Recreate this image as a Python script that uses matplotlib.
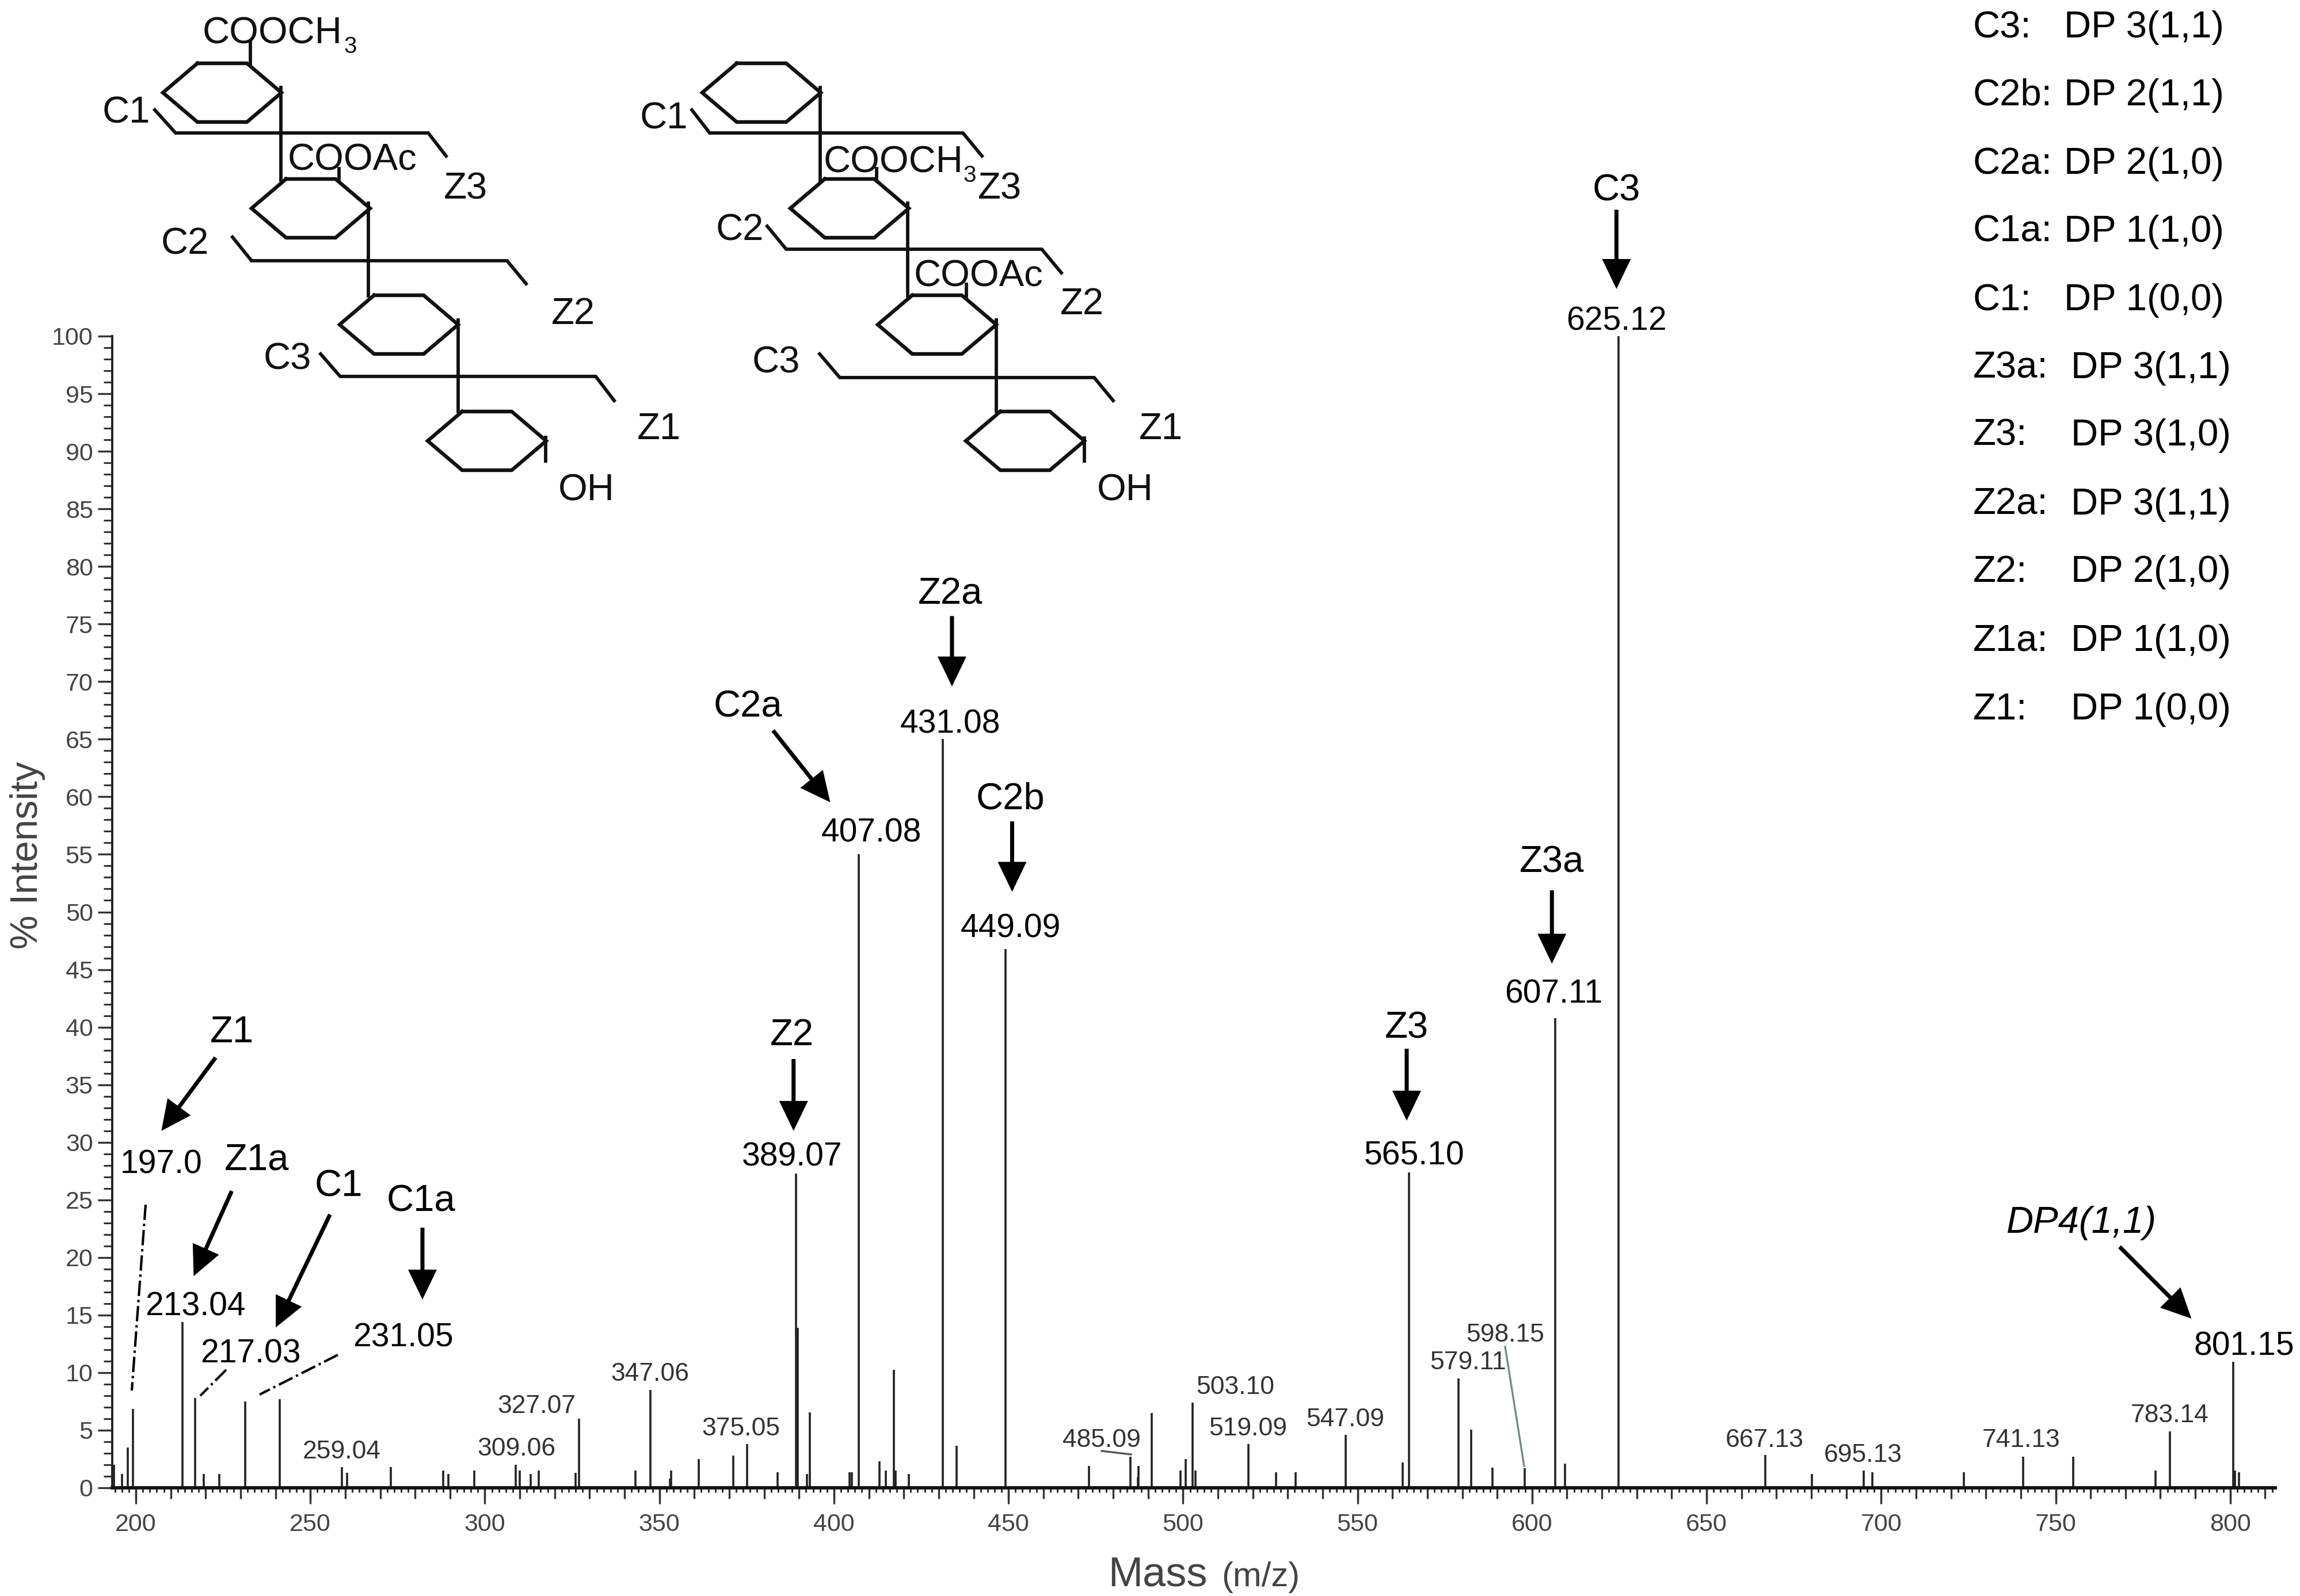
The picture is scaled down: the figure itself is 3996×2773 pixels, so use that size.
import matplotlib
matplotlib.use("Agg")
import matplotlib.pyplot as plt
from matplotlib.ticker import MultipleLocator
import numpy as np

plt.rcParams["font.family"] = ["Liberation Sans", "DejaVu Sans"]

W, H = 3996, 2773
K = W / 1568

# peaks
mz = [193.8, 196.1, 197.7, 199.1, 213.35, 217.0, 219.5, 223.9, 231.3, 241.2, 259.1, 260.5, 273.0,
      288.1, 289.6, 297.0, 308.9, 310.0, 313.1, 315.5, 326.0, 327.0, 343.2, 347.4, 353.0, 353.3,
      361.3, 371.2, 375.1, 383.8, 389.1, 389.6, 392.2, 393.1, 404.5, 405.2, 407.1, 413.1, 414.9,
      417.1, 417.7, 421.4, 431.1, 435.2, 449.1, 473.1, 485.0, 487.1, 487.3, 491.1, 499.3, 500.8,
      502.8, 503.5, 518.8, 526.7, 532.2, 546.6, 562.9, 564.7, 579.0, 582.6, 588.6, 597.9, 606.7,
      609.4, 624.7, 666.8, 680.2, 695.0, 697.5, 723.7, 740.7, 755.0, 778.6, 782.7, 800.9, 801.4,
      802.5]
intensity = [2.0, 1.2, 3.5, 6.85, 14.4, 7.8, 1.2, 1.2, 7.5, 7.7, 1.8, 1.3, 1.8,
             1.5, 1.2, 1.5, 2.0, 1.5, 1.2, 1.5, 1.3, 6.0, 1.5, 8.5, 0.8, 1.5,
             2.5, 2.8, 3.8, 1.35, 27.3, 13.9, 1.2, 6.55, 1.35, 1.35, 55.0, 2.3, 1.5,
             10.25, 1.5, 1.2, 65.0, 3.65, 46.8, 1.9, 2.7, 0.9, 1.9, 6.5, 1.5, 2.5,
             7.4, 1.5, 3.8, 1.35, 1.35, 4.6, 2.2, 27.4, 9.5, 5.05, 1.75, 1.7, 40.8,
             2.1, 100.0, 2.85, 1.2, 1.5, 1.35, 1.35, 2.7, 2.7, 1.5, 4.9, 10.95, 1.5,
             1.35]

# small grey peak labels
small_labels = ["259.04", "309.06", "327.07", "347.06", "375.05", "485.09", "503.10", "519.09",
                "547.09", "579.11", "598.15", "667.13", "695.13", "741.13", "783.14"]
small_x = [233, 352, 366, 443, 505, 751, 842, 851, 917, 1001, 1026, 1203, 1270, 1378, 1479]
small_y = [990, 988, 959, 937, 974, 982, 946, 974, 968, 929, 910, 982, 992, 982, 965]

# fragment name, big value label, arrow
frag_names = ["C3", "Z2a", "C2b", "C2a", "Z3a", "Z3", "Z2", "Z1", "Z1a", "C1", "C1a"]
frag_x = [1102, 648, 689, 510, 1058, 959, 540, 158, 175, 231, 287]
frag_y = [130, 405, 545, 482, 588, 701, 706, 704, 791, 809, 819]
value_labels = ["625.12", "431.08", "449.09", "407.08", "607.11", "565.10", "389.07", "197.0",
                "213.04", "217.03", "231.05"]
value_x = [1102, 648, 689, 594, 1059, 964, 540, 110, 133, 171, 275]
value_y = [219, 494, 633, 568, 678, 788, 789, 794, 891, 923, 912]
arrows = [(1102, 143, 1102, 197), (649, 420, 649, 468), (690, 560, 690, 608), (527, 498, 566, 547),
          (1058, 607, 1058, 657), (959, 715, 959, 764), (541, 722, 541, 771), (147, 721, 110, 771),
          (158, 812, 132, 870), (225, 828, 188, 905), (288, 837, 288, 886), (1445, 850, 1494, 899)]

# key at top right
key_names = ["C3:", "C2b:", "C2a:", "C1a:", "C1:", "Z3a:", "Z3:", "Z2a:", "Z2:", "Z1a:", "Z1:"]
key_dp = ["DP 3(1,1)", "DP 2(1,1)", "DP 2(1,0)", "DP 1(1,0)", "DP 1(0,0)", "DP 3(1,1)",
          "DP 3(1,0)", "DP 3(1,1)", "DP 2(1,0)", "DP 1(1,0)", "DP 1(0,0)"]
key_y = [19, 65, 112, 158, 205, 251, 297, 344, 390, 437, 484]

fig = plt.figure(figsize=(W / 100, H / 100), dpi=100, facecolor="white")
ax = fig.add_axes([195 / W, 1 - 2585 / H, (3953 - 195) / W, (2585 - 584) / H])

ax.vlines(mz, 0, intensity, color="#222222", linewidth=2.6)
ax.set_xlim(193.24, 812.9)
ax.set_ylim(0, 100)

for s in ["top", "right"]:
    ax.spines[s].set_visible(False)
ax.spines["bottom"].set_linewidth(4.2)
ax.spines["bottom"].set_color("#111111")
ax.spines["left"].set_linewidth(2.8)
ax.spines["left"].set_color("#222222")

ax.xaxis.set_major_locator(MultipleLocator(50))
ax.xaxis.set_minor_locator(MultipleLocator(2))
ax.yaxis.set_major_locator(MultipleLocator(5))
ax.yaxis.set_minor_locator(MultipleLocator(1))
ax.tick_params(axis="x", which="major", length=20, width=2.4, color="#333333", labelsize=31,
               labelcolor="#444444", pad=12)
ax.tick_params(axis="x", which="minor", length=6, width=2.2, color="#333333")
ax.tick_params(axis="y", which="major", length=18, width=2.4, color="#333333", labelsize=31,
               labelcolor="#444444", pad=6)
ax.tick_params(axis="y", which="minor", length=11, width=2.2, color="#333333")

# every tenth tick is a bit longer
sec = ax.secondary_xaxis("bottom")
sec.set_xticks(np.arange(200, 811, 10))
sec.set_xticklabels([])
sec.tick_params(axis="x", length=14, width=2.4, color="#333333")
sec.spines["bottom"].set_visible(False)

# overlay in pixels for everything that was pasted on top of the spectrum
ov = fig.add_axes([0, 0, 1, 1], facecolor="none")
ov.set_xlim(0, W)
ov.set_ylim(H, 0)
ov.axis("off")

ov.text(19 * K, 583 * K, "% Intensity", rotation=90, fontsize=48, color="#444444", ha="center", va="center")
ov.text(1925, 2756, "Mass", fontsize=52, color="#444444", va="baseline")
ov.text(2122, 2756, "(m/z)", fontsize=43, color="#444444", va="baseline")

for t, x, y in zip(small_labels, small_x, small_y):
    ov.text(x * K, y * K, t, fontsize=32, color="#333333", ha="center", va="center")
for t, x, y in zip(frag_names, frag_x, frag_y):
    ov.text(x * K, y * K, t, fontsize=47, color="black", ha="center", va="center")
for t, x, y in zip(value_labels, value_x, value_y):
    ov.text(x * K, y * K, t, fontsize=41, color="black", ha="center", va="center")
ov.text(1419 * K, 834 * K, "DP4(1,1)", fontsize=47, style="italic", color="black", ha="center", va="center")
ov.text(1530 * K, 918 * K, "801.15", fontsize=41, color="black", ha="center", va="center")

for x0, y0, x1, y1 in arrows:
    ov.arrow(x0 * K, y0 * K, (x1 - x0) * K, (y1 - y0) * K, width=7, head_width=50, head_length=52,
             length_includes_head=True, color="black", linewidth=0)

# leader lines
ov.plot([253, 229], [2093, 2416], color="black", linewidth=3, linestyle="-.")
ov.plot([393, 348], [2380, 2425], color="black", linewidth=3, linestyle="-.")
ov.plot([587, 451], [2354, 2423], color="black", linewidth=3, linestyle="-.")
ov.plot([2615, 2648], [2340, 2547], color="#778888", linewidth=2.4)
ov.plot([1914, 1965], [2521, 2527], color="#555555", linewidth=2.4)

for name, dp, y in zip(key_names, key_dp, key_y):
    ov.text(1345 * K, y * K, name, fontsize=47, color="black", va="center")
    dp_x = 1407 if name.startswith("C") else 1412
    ov.text(dp_x * K, y * K, dp, fontsize=47, color="black", va="center")


def hexagon(cx, cy, outer=103, inner=43, half=51):
    xs = [cx - inner, cx + inner, cx + outer, cx + inner, cx - inner, cx - outer, cx - inner]
    ys = [cy - half, cy - half, cy, cy + half, cy + half, cy, cy - half]
    ov.plot(xs, ys, color="#111111", linewidth=4.6, solid_joinstyle="miter")


def bond(xs, ys):
    ov.plot(xs, ys, color="#111111", linewidth=4.2, solid_joinstyle="miter")


def chem(x, y, t, size=47):
    ov.text(x, y, t, fontsize=size, color="#111111", va="baseline")


# left structure
for cx, cy in [(386, 161), (540, 362), (693, 564), (846, 766)]:
    hexagon(cx, cy)
bond([435, 435], [72, 110])
bond([488, 488], [152, 313])
bond([640, 640], [353, 514])
bond([796, 796], [556, 715])
bond([948, 948], [760, 801])
bond([589, 589], [293, 313])
bond([269, 305, 744, 775], [191, 231, 231, 271])
bond([404, 437, 881, 914], [412, 453, 453, 493])
bond([557, 591, 1035, 1067], [615, 654, 654, 696])
chem(352, 75, "COOCH")
chem(597, 92, "3", 29)
chem(178, 213, "C1")
chem(500, 296, "COOAc")
chem(771, 345, "Z3")
chem(280, 441, "C2")
chem(958, 563, "Z2")
chem(458, 642, "C3")
chem(1107, 763, "Z1")
chem(970, 870, "OH")

# right structure
for cx, cy in [(1323, 161), (1476, 362), (1628, 564), (1781, 766)]:
    hexagon(cx, cy)
bond([1425, 1425], [152, 313])
bond([1577, 1577], [353, 514])
bond([1731, 1731], [556, 715])
bond([1884, 1884], [761, 801])
bond([1523, 1523], [293, 313])
bond([1679, 1679], [494, 515])
bond([1202, 1233, 1673, 1706], [191, 231, 231, 271])
bond([1333, 1366, 1810, 1844], [393, 433, 433, 474])
bond([1424, 1459, 1901, 1934], [615, 656, 656, 696])
chem(1112, 223, "C1")
chem(1431, 300, "COOCH")
chem(1673, 316, "3", 29)
chem(1699, 346, "Z3")
chem(1244, 418, "C2")
chem(1588, 497, "COOAc")
chem(1842, 546, "Z2")
chem(1307, 648, "C3")
chem(1979, 763, "Z1")
chem(1906, 870, "OH")

fig.savefig("out.png", dpi=100)
